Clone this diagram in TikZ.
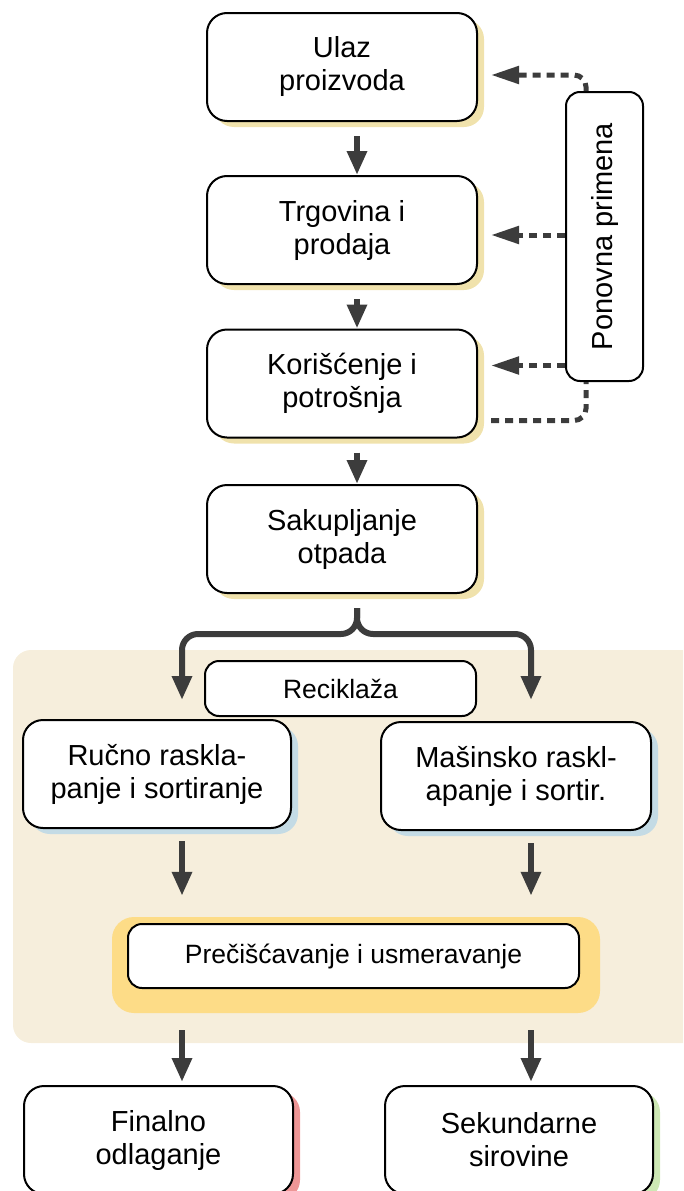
\documentclass[tikz,border=0pt]{standalone}
\usepackage{fontspec}
\setmainfont{Liberation Sans}
\usetikzlibrary{arrows.meta,shadows}

\definecolor{beige}{RGB}{246,238,220}
\definecolor{gold}{RGB}{253,220,135}
\definecolor{shyel}{RGB}{240,226,172}
\definecolor{shblue}{RGB}{196,219,229}
\definecolor{shred}{RGB}{238,150,150}
\definecolor{shgreen}{RGB}{205,232,180}
\definecolor{arrgray}{RGB}{60,60,60}

\tikzset{
  box/.style={draw, line width=2pt, rounded corners=20pt, fill=white, align=center,
    minimum width=270pt, minimum height=108pt, inner sep=0pt,
    font=\fontsize{29}{33}\selectfont},
  shad/.style={drop shadow={shadow xshift=7pt, shadow yshift=-6pt, fill=#1, opacity=1}},
  flow/.style={line width=6pt, draw=arrgray, -{Triangle[width=19pt,length=24pt]}},
  reuse/.style={line width=5pt, draw=arrgray, dash pattern=on 8pt off 6pt,
    rounded corners=12pt},
  reusetip/.style={-{Triangle[width=17pt,length=28pt]}, shorten >=13pt}
}

\begin{document}
\begin{tikzpicture}[x=1pt, y=-1pt]
  \useasboundingbox (0,0) rectangle (683,1191);
  \clip (0,0) rectangle (683,1191);

  \fill[beige, rounded corners=18pt] (13,650) rectangle (720,1043); %recycling area

  \coordinate (mcol) at (357,0);   %column of the upper arrows
  \coordinate (lcol) at (182,0);
  \coordinate (rcol) at (531,0);
  \coordinate (rx) at (586,0);     %where the reuse line meets its box

  \node[box, shad=shyel] (ulaz) at (342,67) {Ulaz\\proizvoda};
  \node[box, shad=shyel] (trg) at (342,230) {Trgovina i\\prodaja};
  \node[box, shad=shyel] (kor) at (342,383.5) {Korišćenje i\\potrošnja};
  \node[box, shad=shyel] (sak) at (342,539) {Sakupljanje\\otpada};

  \node[box, minimum width=77pt, minimum height=289pt, rounded corners=14pt] (pon)
    at (604.5,236.5) {\rotatebox{90}{Ponovna primena}};

  \node[box, minimum width=271pt, minimum height=55pt, rounded corners=14pt,
    font=\fontsize{26.5}{31}\selectfont] (recik) at (340.5,688.5) {Reciklaža};
  \node[box, minimum width=268pt, shad=shblue] (rucno) at (157,774) {Ručno raskla-\\panje i sortiranje};
  \node[box, shad=shblue] (masin) at (516,776) {Mašinsko raskl-\\apanje i sortir.};

  \node[fill=gold, rounded corners=22pt, minimum width=488pt, minimum height=96pt] (halo)
    at (356,965) {};
  \node[box, minimum width=451pt, minimum height=64pt, rounded corners=14pt,
    font=\fontsize{26.5}{31}\selectfont] (purif) at (353.5,956) {Prečišćavanje i usmeravanje};

  \node[box, minimum width=269pt, shad=shred] (final) at (158.5,1140) {Finalno\\odlaganje};
  \node[box, minimum width=268pt, shad=shgreen] (sekund) at (519,1140) {Sekundarne\\sirovine};

  \foreach \a/\b in {ulaz/trg, trg/kor, kor/sak} {   %for each step down the chain
    \draw[flow, shorten <=14pt] (mcol |- \a.south) -- (mcol |- \b.north);
  }
  \foreach \c in {lcol, rcol} {   %for each branch of the split
    \draw[flow, rounded corners=16pt, shorten <=14pt, shorten >=19pt]
      (mcol |- sak.south) -- ++(0,40) -| (\c |- rucno.north);
  }
  \foreach \c/\a in {lcol/rucno, rcol/masin} {   %for each side into the purification
    \draw[flow, shorten <=12pt, shorten >=21pt] (\c |- \a.south) -- (\c |- halo.north);
  }
  \foreach \c/\b in {lcol/final, rcol/sekund} {   %for each of the two outputs
    \draw[flow, shorten <=17pt, shorten >=3pt] (\c |- halo.south) -- (\c |- \b.north);
  }

  \coordinate (t2) at ([yshift=-5pt]trg.east);
  \coordinate (t3) at ([yshift=18pt]kor.east);
  \draw[reuse, reusetip] (rx |- pon.north) |- ([yshift=-8pt]ulaz.east);
  \draw[reuse, reusetip] (pon.west |- t2) -- (t2);
  \draw[reuse, reusetip] (pon.west |- t3) -- (t3);
  \draw[reuse, shorten <=13pt] ([yshift=-37pt]kor.east) -| (rx |- pon.south);
\end{tikzpicture}
\end{document}
